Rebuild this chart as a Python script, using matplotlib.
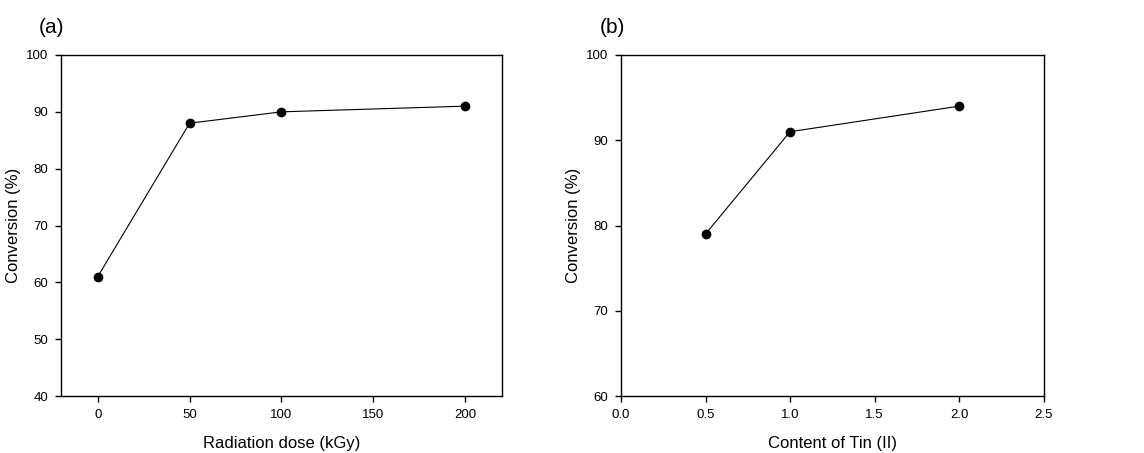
import matplotlib
matplotlib.use('Agg')
import matplotlib.pyplot as plt

plt.rcParams['font.family'] = ['Liberation Sans', 'DejaVu Sans']

dose = [0, 50, 100, 200]
conv_dose = [61, 88, 90, 91]

tin = [0.5, 1.0, 2.0]
conv_tin = [79, 91, 94]

fig = plt.figure(figsize=(11.44, 4.53), dpi=100)
ax1 = fig.add_axes([0.0533, 0.1258, 0.3855, 0.7528])
ax2 = fig.add_axes([0.5428, 0.1258, 0.3695, 0.7528])


def style(ax):
    for s in ax.spines.values():
        s.set_linewidth(1.0)
    ax.tick_params(direction='out', length=4, width=1, labelsize=9.5, pad=5)


ax1.plot(dose, conv_dose, color='black', lw=0.8, marker='o', ms=6)
ax1.set_xlim(-20, 220)
ax1.set_ylim(40, 100)
ax1.set_xticks([0, 50, 100, 150, 200])
ax1.set_yticks([40, 50, 60, 70, 80, 90, 100])
ax1.set_xlabel('Radiation dose (kGy)', fontsize=12, labelpad=11)
ax1.set_ylabel('Conversion (%)', fontsize=12, labelpad=4)
style(ax1)
fig.text(0.034, 0.94, '(a)', fontsize=15, ha='left', va='center')

ax2.plot(tin, conv_tin, color='black', lw=0.8, marker='o', ms=6)
ax2.set_xlim(0, 2.5)
ax2.set_ylim(60, 100)
ax2.set_xticks([0.0, 0.5, 1.0, 1.5, 2.0, 2.5])
ax2.set_xticklabels(['0.0', '0.5', '1.0', '1.5', '2.0', '2.5'])
ax2.set_yticks([60, 70, 80, 90, 100])
ax2.set_xlabel('Content of Tin (II)', fontsize=12, labelpad=11)
ax2.set_ylabel('Conversion (%)', fontsize=12, labelpad=4)
style(ax2)
fig.text(0.524, 0.94, '(b)', fontsize=15, ha='left', va='center')

fig.savefig('out.png', dpi=100)
